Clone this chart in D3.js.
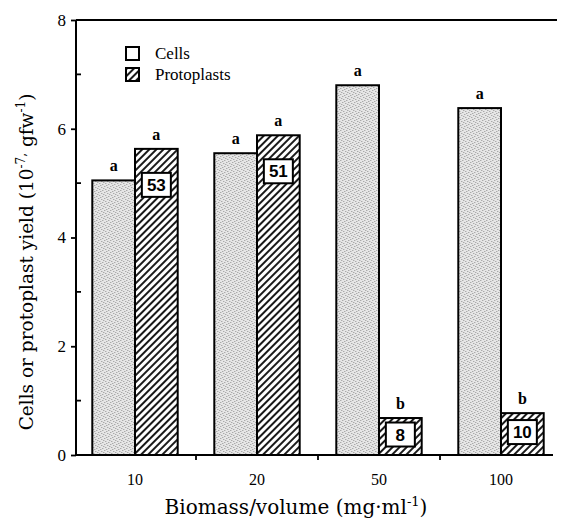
<!DOCTYPE html>
<html>
<head>
<meta charset="utf-8">
<script src="https://cdn.jsdelivr.net/npm/d3@7"></script>
<style>
  body { margin: 0; background: #fff; }
  svg { font-family: "Liberation Serif", "DejaVu Serif", serif; }
</style>
</head>
<body>
<div id="chart"></div>
<script>
// data
let groups = ["10", "20", "50", "100"];
let cells = [5.05, 5.55, 6.8, 6.38];
let protoplasts = [5.63, 5.88, 0.68, 0.77];
let cellLetters = ["a", "a", "a", "a"];
let protoLetters = ["a", "a", "b", "b"];
let protoCounts = ["53", "51", "8", "10"];
let yTicks = [0, 2, 4, 6, 8];
let yMinor = [1, 3, 5, 7];

let width = 563,
    height = 521;

let svg = d3.select("#chart")
      .append("svg")
      .attr("width", width)
      .attr("height", height);

let defs = svg.append("defs");

// stippled grey for cells
let dots = defs.append("pattern")
      .attr("id", "stipple")
      .attr("patternUnits", "userSpaceOnUse")
      .attr("width", 6)
      .attr("height", 6);
dots.append("rect").attr("width", 6).attr("height", 6).attr("fill", "#e6e6e6");
[[0, 0], [3, 1], [1, 3], [4, 4], [2, 5], [5, 2]].forEach(function(p) {
  dots.append("rect").attr("x", p[0]).attr("y", p[1])
      .attr("width", 1).attr("height", 1).attr("fill", "#909090");
});

// diagonal hatch for protoplasts
let hatch = defs.append("pattern")
      .attr("id", "hatch")
      .attr("patternUnits", "userSpaceOnUse")
      .attr("width", 5)
      .attr("height", 5)
      .attr("patternTransform", "rotate(45)");
hatch.append("rect").attr("width", 5).attr("height", 5).attr("fill", "#fff");
hatch.append("line")
    .attr("x1", 1).attr("y1", 0).attr("x2", 1).attr("y2", 5)
    .attr("stroke", "#000").attr("stroke-width", 1.8);

let x0 = d3.scaleBand()
      .domain(groups)
      .range([74, 562])
      .paddingInner(0.3)
      .paddingOuter(0.15);

let x1 = d3.scaleBand()
      .domain(["cells", "proto"])
      .range([0, x0.bandwidth()]);

let y = d3.scaleLinear()
      .domain([0, 8])
      .range([455, 20]);

let axisX = 76;

// frame: left axis and top line
svg.append("line").attr("x1", axisX).attr("x2", axisX).attr("y1", y(8)).attr("y2", y(0))
    .attr("stroke", "#000").attr("stroke-width", 2);
svg.append("line").attr("x1", axisX).attr("x2", 557).attr("y1", y(8)).attr("y2", y(8))
    .attr("stroke", "#000").attr("stroke-width", 1.8);

// y axis ticks (major out, minor in)
let yAxis = svg.append("g").attr("transform", "translate(" + axisX + ",0)")
      .call(d3.axisLeft(y).tickValues(yTicks).tickSize(5).tickFormat(d3.format("d")));
yAxis.select(".domain").remove();
yAxis.selectAll("line").attr("stroke-width", 1.8);
yAxis.selectAll("text").attr("font-size", 17).attr("font-family", "Liberation Serif").attr("dx", "-2");

svg.append("g").selectAll("line")
    .data(yMinor).enter().append("line")
    .attr("x1", axisX).attr("x2", axisX + 5)
    .attr("y1", function(d) { return y(d); })
    .attr("y2", function(d) { return y(d); })
    .attr("stroke", "#000").attr("stroke-width", 1.8);

// bars
let g = svg.selectAll(".grp")
      .data(groups)
      .enter().append("g")
      .attr("class", "grp")
      .attr("transform", function(d) { return "translate(" + x0(d) + ",0)"; });

g.append("rect")
    .attr("x", x1("cells"))
    .attr("y", function(d, i) { return y(cells[i]); })
    .attr("width", x1.bandwidth())
    .attr("height", function(d, i) { return y(0) - y(cells[i]); })
    .attr("fill", "url(#stipple)")
    .attr("stroke", "#000")
    .attr("stroke-width", 2);

g.append("rect")
    .attr("x", x1("proto"))
    .attr("y", function(d, i) { return y(protoplasts[i]); })
    .attr("width", x1.bandwidth())
    .attr("height", function(d, i) { return y(0) - y(protoplasts[i]); })
    .attr("fill", "url(#hatch)")
    .attr("stroke", "#000")
    .attr("stroke-width", 2);

// significance letters
g.append("text")
    .attr("x", x1("cells") + x1.bandwidth() / 2)
    .attr("y", function(d, i) { return y(cells[i]) - 9; })
    .attr("text-anchor", "middle")
    .attr("font-size", 16)
    .attr("font-weight", "bold")
    .text(function(d, i) { return cellLetters[i]; });

g.append("text")
    .attr("x", x1("proto") + x1.bandwidth() / 2)
    .attr("y", function(d, i) { return y(protoplasts[i]) - 9; })
    .attr("text-anchor", "middle")
    .attr("font-size", 16)
    .attr("font-weight", "bold")
    .text(function(d, i) { return protoLetters[i]; });

// count boxes inside protoplast bars
function boxCenter(i) {
  let top = y(protoplasts[i]);
  let h = y(0) - top;
  return h > 60 ? top + 36 : top + h / 2 - 2;
}

g.append("rect")
    .attr("x", x1("proto") + x1.bandwidth() / 2 - 14.5)
    .attr("y", function(d, i) { return boxCenter(i) - 12; })
    .attr("width", 29)
    .attr("height", 24)
    .attr("fill", "#fff")
    .attr("stroke", "#000")
    .attr("stroke-width", 2);

g.append("text")
    .attr("x", x1("proto") + x1.bandwidth() / 2)
    .attr("y", function(d, i) { return boxCenter(i) + 6; })
    .attr("text-anchor", "middle")
    .attr("font-size", 17)
    .attr("font-weight", "bold")
    .attr("font-family", "Liberation Sans Narrow, Liberation Sans")
    .text(function(d, i) { return protoCounts[i]; });

// x axis
svg.append("line").attr("x1", axisX).attr("x2", 553).attr("y1", y(0)).attr("y2", y(0))
    .attr("stroke", "#000").attr("stroke-width", 2);

let between = groups.slice(1).map(function(d) { return x0(d) - x0.step() * x0.paddingInner() / 2; });
svg.append("g").selectAll("line")
    .data(between).enter().append("line")
    .attr("x1", function(d) { return d; })
    .attr("x2", function(d) { return d; })
    .attr("y1", y(0))
    .attr("y2", y(0) + 5)
    .attr("stroke", "#000").attr("stroke-width", 1.8);

svg.append("g").selectAll("text")
    .data(groups).enter().append("text")
    .attr("x", function(d) { return x0(d) + x0.bandwidth() / 2; })
    .attr("y", 485)
    .attr("text-anchor", "middle")
    .attr("font-size", 16)
    .text(function(d) { return d; });

// axis titles
let xt = svg.append("text")
      .attr("x", 296)
      .attr("y", 514)
      .attr("text-anchor", "middle")
      .attr("font-family", "DejaVu Serif")
      .attr("font-size", 20);
xt.append("tspan").text("Biomass/volume (mg\u00b7ml");
xt.append("tspan").attr("font-size", 13).attr("dy", -8).text("-1");
xt.append("tspan").attr("dy", 8).text(")");

let yt = svg.append("text")
      .attr("transform", "translate(33,262) rotate(-90)")
      .attr("text-anchor", "middle")
      .attr("font-family", "DejaVu Serif")
      .attr("font-size", 18.5);
yt.append("tspan").text("Cells or protoplast yield (10");
yt.append("tspan").attr("font-size", 12).attr("dy", -8).text("-7,");
yt.append("tspan").attr("dy", 8).text(" gfw");
yt.append("tspan").attr("font-size", 12).attr("dy", -8).text("-1");
yt.append("tspan").attr("dy", 8).text(")");

// legend
let legend = svg.append("g").attr("transform", "translate(126,47)");
let legendItems = [
  { label: "Cells", fill: "#fff" },
  { label: "Protoplasts", fill: "url(#hatch)" }
];
let li = legend.selectAll("g")
      .data(legendItems)
      .enter().append("g")
      .attr("transform", function(d, i) { return "translate(0," + (i * 21) + ")"; });
li.append("rect")
    .attr("width", 13).attr("height", 13)
    .attr("fill", function(d) { return d.fill; })
    .attr("stroke", "#000").attr("stroke-width", 2);
li.append("text")
    .attr("x", 29)
    .attr("y", 12)
    .attr("font-size", 17)
    .text(function(d) { return d.label; });
</script>
</body>
</html>
